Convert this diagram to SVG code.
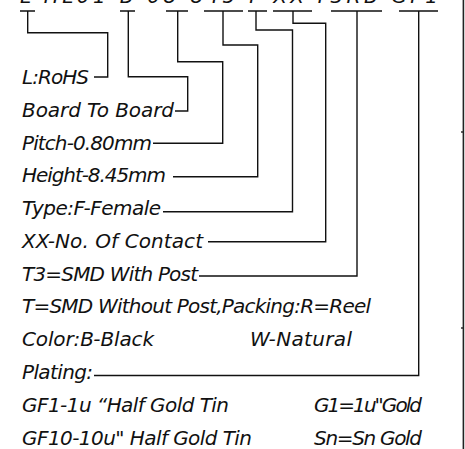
<svg xmlns="http://www.w3.org/2000/svg" width="465" height="449" viewBox="0 0 465 449">
<style>
.t{font-family:"DejaVu Sans","Liberation Sans",sans-serif;font-style:italic;font-size:20px;fill:#111}
.c{fill:none;stroke:#111;stroke-width:1.4}
</style>
<rect width="465" height="449" fill="#fff"/>
<g id="part-number">
<text class="t" x="20" y="2.5" textLength="418" lengthAdjust="spacing">L-HL01-B-08-845-F-XX-T3RB-GF1</text>
</g>
<g id="connectors" class="c">
<path d="M20,11H35M120,11H135M166,11H188M204,11H243M248,11H267M273,11H312M331,11H382M399,11H438"/>
<path d="M27.7,11V32.7H107.7V77H94"/>
<path d="M128.3,11V76.7H187.7V111H175"/>
<path d="M177.7,11V61.7H222.7V143.3H153"/>
<path d="M223,11V45H257.7V176.7H173"/>
<path d="M256,11V30H292.5V211.7H163"/>
<path d="M293,11V23.3H325.7V241.7H208"/>
<path d="M357,11V276H199"/>
<path d="M418.7,11V375.5H94"/>
</g>
<g id="border">
<rect x="462.6" y="0" width="1.6" height="449" fill="#222"/>
<rect x="461" y="131.3" width="2" height="1.4" fill="#222"/>
<rect x="461" y="327.3" width="2" height="1.4" fill="#222"/>
</g>
<g id="n-rohs"><text class="t" x="22" y="84" textLength="67" lengthAdjust="spacing">L:RoHS</text></g>
<g id="n-btb"><text class="t" x="22" y="116.8" textLength="152" lengthAdjust="spacing">Board To Board</text></g>
<g id="n-pitch"><text class="t" x="22" y="149.5" textLength="130" lengthAdjust="spacing">Pitch-0.80mm</text></g>
<g id="n-height"><text class="t" x="22" y="182.3" textLength="144" lengthAdjust="spacing">Height-8.45mm</text></g>
<g id="n-type"><text class="t" x="22" y="215" textLength="139" lengthAdjust="spacing">Type:F-Female</text></g>
<g id="n-contact"><text class="t" x="22" y="247.8" textLength="181" lengthAdjust="spacing">XX-No. Of Contact</text></g>
<g id="n-t3"><text class="t" x="22" y="280.6" textLength="176" lengthAdjust="spacing">T3=SMD With Post</text></g>
<g id="n-t"><text class="t" x="22" y="313.4" textLength="349" lengthAdjust="spacing">T=SMD Without Post,Packing:R=Reel</text></g>
<g id="n-color">
<text class="t" x="22" y="346.2" textLength="132" lengthAdjust="spacing">Color:B-Black</text>
<text class="t" x="250" y="346.2" textLength="102" lengthAdjust="spacing">W-Natural</text>
</g>
<g id="n-plating">
<text class="t" x="22" y="379" textLength="71" lengthAdjust="spacing">Plating:</text>
<text class="t" x="22" y="411.8" textLength="207" lengthAdjust="spacing">GF1-1u “Half Gold Tin</text>
<text class="t" x="314" y="411.8" textLength="108" lengthAdjust="spacing">G1=1u"Gold</text>
<text class="t" x="22" y="444.6" textLength="230" lengthAdjust="spacing">GF10-10u" Half Gold Tin</text>
<text class="t" x="314" y="444.6" textLength="108" lengthAdjust="spacing">Sn=Sn Gold</text>
</g>
</svg>
